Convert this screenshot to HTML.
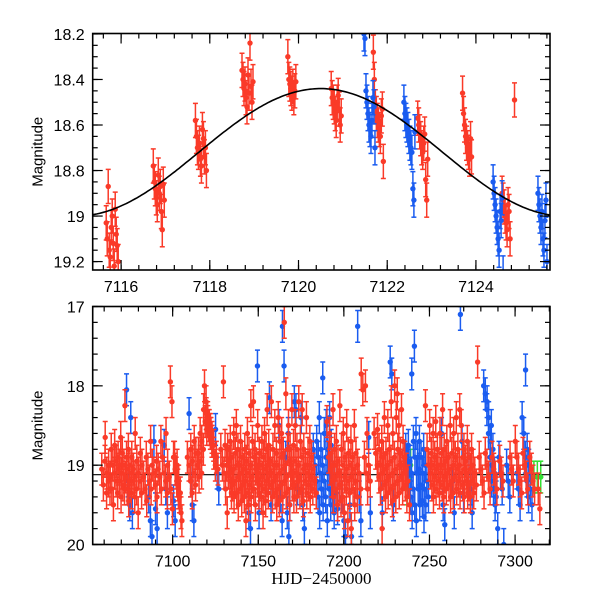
<!DOCTYPE html>
<html><head><meta charset="utf-8">
<style>
html,body{margin:0;padding:0;background:#fff;}
svg{display:block;font-family:"Liberation Sans",sans-serif;}
</style></head>
<body>
<svg id="chart" width="600" height="600" viewBox="0 0 600 600">
<g id="top"></g>
<g id="bot"></g>
</svg>
<script>
// ---------- DATA ----------
const topXTicks = [7116, 7118, 7120, 7122, 7124];
const topYTicks = [18.2, 18.4, 18.6, 18.8, 19, 19.2];
const topYLabels = ["18.2", "18.4", "18.6", "18.8", "19", "19.2"];
const botXTicks = [7100, 7150, 7200, 7250, 7300];
const botYTicks = [17, 18, 19, 20];
const botYLabels = ["17", "18", "19", "20"];

// model curve parameters (mean magnitude, amplitude, peak time, period)
const curveMean = 18.72, curveAmp = 0.28, curvePeak = 7120.5, curvePeriod = 11;
const botLineMag = 19.12;

// top panel nights: [time, [mags]]
const topRed = [
 [7115.8,[19.03,19.10,18.87,19.15,19.18,19.05,19.00,19.12,19.22,18.97,19.08,19.13,19.20]],
 [7116.85,[18.78,18.85,18.88,18.92,18.95,18.82,18.90,18.87,18.98,19.06,18.86,18.93]],
 [7117.8,[18.58,18.65,18.70,18.72,18.68,18.75,18.78,18.62,18.66,18.74,18.70,18.80]],
 [7118.85,[18.36,18.40,18.44,18.42,18.48,18.52,18.38,18.46,18.24,18.43,18.50,18.41]],
 [7119.85,[18.30,18.40,18.42,18.44,18.46,18.43,18.48,18.45,18.41]],
 [7120.85,[18.44,18.48,18.50,18.52,18.55,18.58,18.50,18.47,18.53,18.60,18.56]],
 [7121.8,[18.28,18.40,18.52,18.55,18.58,18.60,18.62,18.65,18.56,18.53,18.76]],
 [7122.8,[18.57,18.60,18.63,18.66,18.70,18.72,18.68,18.64,18.84,18.93,18.75]],
 [7123.8,[18.46,18.55,18.60,18.65,18.68,18.70,18.72,18.75,18.66,18.74]],
 [7124.87,[18.49]],
 [7124.68,[18.90,18.93,18.96,19.00,19.03,19.06,18.95,18.98,19.10]]
];
const topBlue = [
 [7121.6,[18.20,18.22,18.45,18.50,18.55,18.60,18.62,18.65,18.58,18.48,18.52,18.70]],
 [7122.5,[18.50,18.55,18.58,18.60,18.62,18.65,18.68,18.70,18.72,18.88,18.93,18.63]],
 [7124.5,[18.85,18.90,18.95,19.00,19.05,19.10,19.15,18.98,19.02,18.92,19.25]],
 [7125.5,[18.90,18.95,19.00,19.05,18.98,19.10,19.15,19.02,18.93,19.20]]
];
const topErr = 0.075;

// bottom panel nights
const botRed = [
 [7060,[19.05,19.25,18.95,19.35]],[7062,[18.65,19.1,19.2,19.3]],[7064,[19.0,19.15,19.3,19.5]],
 [7066,[18.8,19.0,19.1,19.2,19.35]],[7068,[18.75,18.95,19.05,19.2,19.4]],[7070,[18.9,19.0,19.1,19.25,19.3]],
 [7072,[18.65,18.85,19.0,19.15,19.3,19.45]],[7074,[18.25,18.9,19.05,19.2,19.35]],[7076,[18.8,19.0,19.1,19.2,19.4]],
 [7078,[18.9,19.05,19.15,19.3,19.6]],[7080,[18.6,18.95,19.1,19.2,19.35]],[7083,[18.85,19.0,19.15,19.3,19.45]],
 [7086,[18.9,19.05,19.2,19.3]],[7089,[18.7,19.0,19.1,19.25,19.4]],[7092,[18.95,19.05,19.15,19.3]],
 [7095,[18.7,18.9,19.1,19.2,19.35]],[7098,[18.6,19.0,19.15,19.3,19.55]],[7101,[17.95,18.2,18.9,19.05,19.2,19.35]],
 [7103,[18.9,19.1,19.25,19.4,19.6]],[7104,[19.0,19.2,19.35,19.7]],[7110,[18.9,19.0,19.2,19.35]],
 [7112,[18.8,18.95,19.1,19.25]],[7114,[18.7,18.85,19.0,19.15]],[7116,[18.85,18.95,19.1]],
 [7117,[18.6,18.7,18.8]],[7119,[18.3,18.45,18.55]],[7120,[18.0,18.2,18.4,18.5]],
 [7121,[18.35,18.45,18.55,18.6]],[7122,[18.5,18.6,18.7]],[7123,[18.55,18.65,18.75]],
 [7124,[18.7,18.85,19.0]],[7126,[18.9,19.05]],[7130,[18.8,19.0,19.1,19.3,19.6]],
 [7132,[17.95,18.75,19.0,19.1,19.2,19.35]],[7134,[18.8,18.95,19.1,19.25,19.4]],
 [7136,[18.7,18.9,19.05,19.2,19.35,19.5]],[7138,[18.6,18.85,19.0,19.15,19.3,19.45]],
 [7140,[18.5,18.8,19.0,19.1,19.25,19.4,19.7]],[7142,[18.7,18.9,19.05,19.2,19.35,19.5]],
 [7144,[18.8,18.95,19.1,19.25,19.4]],[7146,[18.6,18.85,19.0,19.15,19.3,19.5]],
 [7148,[18.25,18.7,18.9,19.05,19.2,19.35]],[7150,[18.2,18.8,19.0,19.1,19.25,19.4,19.6]],
 [7152,[18.5,18.85,19.0,19.15,19.3,19.45]],[7154,[18.7,18.9,19.05,19.2,19.35]],
 [7156,[18.6,18.8,19.0,19.1,19.25,19.4]],[7158,[18.3,18.75,18.95,19.1,19.2,19.35,19.5]],
 [7160,[18.2,18.8,19.0,19.15,19.3,19.45]],[7162,[18.5,18.85,19.0,19.1,19.25,19.4]],
 [7164,[18.4,18.7,18.9,19.05,19.2,19.35]],[7166,[18.6,18.85,19.0,19.15,19.3,19.5]],
 [7168,[17.2,18.1,18.8,18.95,19.1,19.25,19.4]],[7170,[18.5,18.8,19.0,19.1,19.25,19.4]],
 [7172,[18.3,18.75,18.95,19.1,19.2,19.35]],[7174,[18.5,18.8,19.0,19.15,19.3,19.45]],
 [7176,[18.2,18.7,18.9,19.05,19.2,19.35]],[7178,[18.3,18.8,19.0,19.1,19.25,19.4]],
 [7180,[18.4,18.85,19.0,19.15,19.3]],[7182,[18.7,18.9,19.05,19.2,19.35]],
 [7192,[18.45,18.9,19.05,19.2,19.4]],[7194,[18.6,18.85,19.0,19.15,19.3,19.5]],
 [7196,[18.3,18.8,19.0,19.1,19.25,19.45]],[7198,[18.7,18.95,19.1,19.25,19.4,19.6]],
 [7200,[18.25,18.8,19.0,19.15,19.3,19.7]],[7202,[18.6,18.9,19.05,19.2,19.35,19.8]],
 [7204,[18.5,18.85,19.0,19.15,19.3,19.5]],[7206,[18.7,18.9,19.05,19.2,19.4]],
 [7208,[18.5,18.85,19.0,19.1,19.3]],[7212,[17.85,18.05,18.9,19.1,19.3]],[7214,[18.0,18.6,19.0,19.2]],
 [7220,[18.6,18.85,19.0,19.15,19.3,19.8]],[7222,[18.55,18.8,19.0,19.1,19.25,19.4]],
 [7224,[18.7,18.9,19.05,19.2,19.35]],[7226,[18.4,18.85,19.0,19.15,19.3,19.45]],
 [7228,[18.5,18.8,18.95,19.1,19.25,19.4]],[7230,[18.2,18.6,18.9,19.05,19.2,19.35]],
 [7232,[18.0,18.4,18.8,19.0,19.15,19.3]],[7234,[18.1,18.5,18.85,19.0,19.1,19.25,19.4]],
 [7236,[18.3,18.7,18.9,19.05,19.2,19.5]],[7250,[18.25,18.8,19.0,19.1,19.25,19.4]],
 [7252,[18.5,18.85,19.0,19.15,19.3]],[7254,[18.6,18.9,19.05,19.2,19.35]],
 [7256,[18.45,18.8,19.0,19.1,19.25,19.4]],[7258,[18.6,18.85,19.0,19.15,19.3]],
 [7260,[18.3,18.8,18.95,19.1,19.25,19.4]],[7262,[18.7,18.9,19.05,19.2,19.35]],
 [7264,[18.5,18.85,19.0,19.15,19.3]],[7266,[18.6,18.9,19.05,19.2,19.35]],
 [7268,[18.4,18.8,19.0,19.1,19.25,19.4]],[7270,[18.3,18.5,18.9,19.05,19.2,19.35]],
 [7272,[18.8,18.95,19.1,19.25,19.4]],[7274,[18.7,18.9,19.05,19.2,19.35]],
 [7276,[18.8,19.0,19.1,19.25]],[7280,[17.7,18.9,19.05,19.2,19.35]],[7284,[18.85,19.0,19.15,19.3]],
 [7288,[18.9,19.05,19.15,19.3]],[7292,[18.95,19.1,19.2]],[7298,[18.9,19.05,19.2]],
 [7302,[18.7,18.9,19.05,19.2,19.35]],[7306,[18.85,19.0,19.15,19.3]],[7310,[18.9,19.05,19.2,19.3]],
 [7314,[19.3,19.55]]
];
const botBlue = [
 [7074,[18.05,19.2,19.5]],[7076,[18.4,19.6]],[7087,[19.4,19.7,19.9]],[7090,[18.7,19.55,19.8]],
 [7096,[18.75,19.3,19.6]],[7101,[19.45,19.7]],[7111,[18.35,19.2,19.5,19.7]],[7126,[18.55,19.1,19.3]],
 [7145,[19.6,19.8]],[7150,[17.75,19.6]],[7157,[18.15,19.5]],[7163,[18.5,19.4,19.7]],
 [7166,[17.25,17.75,18.9,19.6,19.9]],[7168,[18.6,19.5]],[7172,[18.2,18.3,19.3]],[7176,[18.4,19.5,19.8]],
 [7184,[18.8,19.0,19.2,19.4,19.6]],[7186,[18.7,18.9,19.1,19.3,19.5]],
 [7188,[18.4,18.8,19.0,19.2,19.4,19.7]],[7190,[17.9,18.6,18.9,19.1,19.3,19.5]],
 [7192,[18.5,18.8,19.0,19.2,19.4,19.6]],[7194,[18.4,18.75,19.0,19.15,19.35,19.55]],
 [7200,[19.4,19.7,19.9]],[7204,[19.5,19.9]],[7209,[17.25,19.4,19.7]],[7215,[18.65,19.6]],
 [7222,[19.3,19.6]],[7228,[17.7,17.85,19.5]],[7238,[18.8,19.0,19.2,19.4,19.6]],
 [7240,[18.75,18.95,19.1,19.3,19.5,19.7]],[7242,[17.85,18.7,18.9,19.1,19.3,19.5]],
 [7244,[17.5,18.6,18.9,19.05,19.25,19.45,19.65]],[7246,[18.7,18.9,19.1,19.3,19.5]],
 [7248,[18.8,19.0,19.2,19.4]],[7258,[18.6,19.5,19.75]],[7264,[19.2,19.6]],[7269,[17.1,18.7,19.4]],
 [7274,[18.9,19.3,19.6]],[7284,[18.0,18.1,18.3,18.6,18.9,19.2]],[7286,[18.2,18.4,18.7,19.0,19.3,19.5]],
 [7288,[18.5,18.8,19.1,19.4,19.8]],[7292,[18.9,19.1,19.3,20.0]],[7296,[19.0,19.2,19.4]],
 [7302,[19.1,19.3,19.5]],[7306,[18.4,18.6,18.9,19.2,19.4]],[7308,[17.8,18.8,19.0,19.3,19.5]]
];
const botGreen = [[7237,[19.3]],[7239,[19.0]],[7311,[19.15]],[7313,[19.15]],[7315,[19.15]]];
const botErr = 0.2;

// ---------- DRAWING ----------
const NS = "http://www.w3.org/2000/svg";
const RED = "#fa3a28", BLUE = "#1a5cf0", GREEN = "#33e033";
function mk(tag, attrs, parent){ const e=document.createElementNS(NS,tag); for(const k in attrs) e.setAttribute(k,attrs[k]); parent.appendChild(e); return e; }

function makePanel(g, box, xr, yr){
  const sx = v => box.x0 + (v - xr[0])/(xr[1]-xr[0])*(box.x1-box.x0);
  const sy = v => box.y0 + (v - yr[0])/(yr[1]-yr[0])*(box.y1-box.y0);
  return {sx, sy};
}

function drawSeries(g, nights, color, err, sx, sy, box, spread, name){
  const sg = mk("g",{},g);
  
  
  nights.forEach(n => {
    const t = n[0];
    const cnt = n[1].length;
    n[1].forEach((m, i) => {
      const x = sx(t) + (i - (cnt-1)/2)*spread;
      const y = sy(m);
      const ya = Math.max(box.y0, sy(m-err)), yb = Math.min(box.y1, sy(m+err));
      if (y < box.y0-3 || y > box.y1+3) return;
      const pg = mk("g",{stroke:color,"stroke-width":1.5,fill:color},sg);
      
      
      mk("line",{x1:x,x2:x,y1:ya,y2:yb},pg);
      mk("line",{x1:x-2.5,x2:x+2.5,y1:ya,y2:ya},pg);
      mk("line",{x1:x-2.5,x2:x+2.5,y1:yb,y2:yb},pg);
      mk("circle",{cx:x,cy:y,r:2.7,stroke:"none"},pg);
    });
  });
}

function drawAxes(g, box, sx, sy, xt, xl, xminor, yt, yl, yminor){
  const ag = mk("g",{stroke:"#000","stroke-width":1.2},g);
  
  
  xminor.forEach(v => { const x=sx(v); if(x<box.x0||x>box.x1) return;
    mk("line",{x1:x,x2:x,y1:box.y1,y2:box.y1-5},ag); mk("line",{x1:x,x2:x,y1:box.y0,y2:box.y0+5},ag); });
  xt.forEach(v => { const x=sx(v);
    mk("line",{x1:x,x2:x,y1:box.y1,y2:box.y1-10},ag); mk("line",{x1:x,x2:x,y1:box.y0,y2:box.y0+10},ag); });
  yminor.forEach(v => { const y=sy(v); if(y<box.y0||y>box.y1) return;
    mk("line",{x1:box.x0,x2:box.x0+5,y1:y,y2:y},ag); mk("line",{x1:box.x1,x2:box.x1-5,y1:y,y2:y},ag); });
  yt.forEach(v => { const y=sy(v);
    mk("line",{x1:box.x0,x2:box.x0+10,y1:y,y2:y},ag); mk("line",{x1:box.x1,x2:box.x1-10,y1:y,y2:y},ag); });
  const fr = mk("rect",{x:box.x0,y:box.y0,width:box.x1-box.x0,height:box.y1-box.y0,fill:"none",stroke:"#000","stroke-width":1.6},g);
  
  
  xt.forEach((v,i) => {
    const t = mk("text",{x:sx(v),y:box.y1+22,"text-anchor":"middle","font-size":16},g);
    t.textContent = xl[i];
    
    
  });
  yt.forEach((v,i) => {
    const t = mk("text",{x:box.x0-8,y:sy(v)+6,"text-anchor":"end","font-size":16},g);
    t.textContent = yl[i];
    
    
  });
  const yt2 = mk("text",{x:0,y:0,"text-anchor":"middle","font-size":15,transform:`translate(${box.x0-50},${(box.y0+box.y1)/2}) rotate(-90)`},g);
  yt2.textContent = "Magnitude";
  
  
}

function range(a,b,s){ const r=[]; for(let v=a; v<=b+1e-9; v+=s) r.push(+v.toFixed(4)); return r; }
function curve(t){ return curveMean - curveAmp*Math.cos(2*Math.PI*(t-curvePeak)/curvePeriod); }

// Top panel
(function(){
  const g = document.getElementById("top");
  const box = {x0:92.7, x1:550, y0:33.5, y1:270};
  const xr = [7115.36, 7125.67], yr = [18.198, 19.237];
  const {sx, sy} = makePanel(g, box, xr, yr);
  const clip = mk("clipPath",{id:"ct"},g); mk("rect",{x:box.x0,y:box.y0,width:box.x1-box.x0,height:box.y1-box.y0},clip);
  const dg = mk("g",{"clip-path":"url(#ct)"},g);
  drawSeries(dg, topRed, RED, topErr, sx, sy, {y0:box.y0-20,y1:box.y1+20}, 1.0, 'red-series-top');
  drawSeries(dg, topBlue, BLUE, topErr, sx, sy, {y0:box.y0-20,y1:box.y1+20}, 1.0, 'blue-series-top');
  let d = "";
  for (let t = xr[0]; t <= xr[1]; t += 0.05) d += (d?"L":"M") + sx(t).toFixed(1) + "," + sy(curve(t)).toFixed(1);
  const p = mk("path",{d:d,fill:"none",stroke:"#000","stroke-width":1.6},dg);
  
  
  drawAxes(g, box, sx, sy, topXTicks, topXTicks.map(String), range(7115.6,7125.6,0.4),
           topYTicks, topYLabels, range(18.2,19.25,0.05));
})();

// Bottom panel
(function(){
  const g = document.getElementById("bot");
  const box = {x0:92.7, x1:550, y0:306.5, y1:544.5};
  const xr = [7053.3, 7320.4], yr = [17, 20];
  const {sx, sy} = makePanel(g, box, xr, yr);
  const clip = mk("clipPath",{id:"cb"},g); mk("rect",{x:box.x0,y:box.y0,width:box.x1-box.x0,height:box.y1-box.y0},clip);
  const dg = mk("g",{"clip-path":"url(#cb)"},g);
  const ln = mk("line",{x1:box.x0,x2:box.x1,y1:sy(botLineMag),y2:sy(botLineMag),stroke:"#000","stroke-width":1.2},dg);
  
  
  drawSeries(dg, botGreen, GREEN, botErr, sx, sy, box, 1.5, 'green-series');
  drawSeries(dg, botBlue, BLUE, botErr, sx, sy, box, 1.6, 'blue-series-bottom');
  drawSeries(dg, botRed, RED, botErr, sx, sy, box, 1.6, 'red-series-bottom');
  drawAxes(g, box, sx, sy, botXTicks, botXTicks.map(String), range(7060,7320,10),
           botYTicks, botYLabels, range(17,20,0.2));
  const xt = mk("text",{x:(box.x0+box.x1)/2,y:584,"text-anchor":"middle","font-size":17,"font-family":"Liberation Serif, serif"},g);
  xt.textContent = "HJD\u22122450000";
  
  
})();
</script>
</body></html>
